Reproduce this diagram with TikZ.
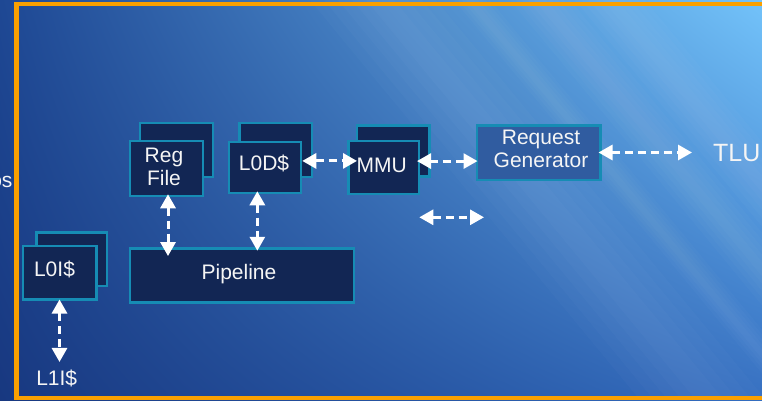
\documentclass[tikz,border=0pt]{standalone}
\usepackage{fontspec}
\setmainfont{Liberation Sans}
\usetikzlibrary{arrows.meta,shadings}

\definecolor{bgul}{RGB}{30,72,148}
\definecolor{bgur}{RGB}{115,195,250}
\definecolor{bgll}{RGB}{24,56,128}
\definecolor{bglr}{RGB}{52,110,192}
\definecolor{boxedge}{RGB}{22,140,180}
\definecolor{boxfill}{RGB}{18,38,84}
\definecolor{reqfill}{RGB}{48,92,160}
\definecolor{frameorange}{RGB}{250,160,0}
\definecolor{labelwhite}{RGB}{245,245,245}

\begin{document}
\begin{tikzpicture}[x=1pt,y=-1pt,
  every node/.style={font=\fontsize{21}{23}\selectfont, text=labelwhite},
  box/.style={draw=boxedge, fill=boxfill, line width=2.5pt, inner sep=0pt},
  txt/.style={align=center, inner sep=0pt},
  biarrow/.style={draw=white, line width=3pt, dash pattern=on 8pt off 5pt,
    {Triangle[length=14pt,width=15pt]}-{Triangle[length=14pt,width=15pt]}}]

  % Background
  \useasboundingbox (0,0) rectangle (762,400);
  \shade[upper left=bgul, upper right=bgur, lower left=bgll, lower right=bglr]
    (0,0) rectangle (762,400);

  % Soft light streaks
  \begin{scope}
    \clip (0,0) rectangle (762,400);
    \foreach \sx/\sw in {380/70, 540/30, 610/35, 470/20} {
      \foreach \k in {0,...,4} {
        \fill[white, opacity=0.018]
          (\sx-\sw+\k*\sw/5,0) -- (\sx+\sw-\k*\sw/5,0)
          -- (\sx+\sw-\k*\sw/5+330,400) -- (\sx-\sw+\k*\sw/5+330,400) -- cycle;
      }
    }
  \end{scope}

  % Orange frame
  \draw[frameorange, line width=4.5pt] (16.3,4.2) rectangle (800,397.8);

  % Reg File
  \node[box, minimum width=73pt, minimum height=54pt] (regback) at (176.5,150) {};
  \node[box, minimum width=73pt, minimum height=55pt] (regf) at (166.5,168.5) {};

  % L0D$
  \node[box, minimum width=72.5pt, minimum height=54pt] (l0dback) at (275.5,150) {};
  \node[box, minimum width=72pt, minimum height=51pt] (l0df) at (265,167.5) {};

  % MMU
  \node[box, minimum width=72.5pt, minimum height=51pt] (mmuback) at (393,151) {};
  \node[box, minimum width=70.5pt, minimum height=53pt] (mmuf) at (383.5,167.5) {};

  % Request Generator
  \node[box, fill=reqfill, minimum width=123.5pt, minimum height=54.5pt] (req) at (538.5,152.5) {};

  % Pipeline
  \node[box, minimum width=224pt, minimum height=54pt] (pipe) at (242,275.3) {};

  % L0I$
  \node[box, minimum width=70.5pt, minimum height=53.5pt] (l0iback) at (71.5,259) {};
  \node[box, minimum width=73.5pt, minimum height=53.5pt] (l0if) at (59.5,272.5) {};

  % Labels
  \node[txt] (regtxt) at (164,166.4) {Reg\\File};
  \node[txt, anchor=base] (l0dtxt) at (264,170) {L0D\$};
  \node[txt, anchor=base] (mmutxt) at (381.7,172.7) {MMU};
  \node[txt] (reqtxt) at (541,149.2) {Request\\Generator};
  \node[txt, anchor=base] (pipetxt) at (239,279.3) {Pipeline};
  \node[txt, anchor=base] (l0itxt) at (54.5,276.7) {L0I\$};
  \node[txt, anchor=base] (l1i) at (56.7,385) {L1I\$};
  \node[txt, anchor=base west, font=\fontsize{25}{27}\selectfont] (tlu) at (713,161.7) {TLU};
  \node[txt, anchor=base east] (os) at (12.7,187) {os};

  % Free arrow below MMU
  \coordinate (fa) at (419.3,217.3);
  \coordinate (fb) at (484,217.3);

  % Arrows
  \draw[biarrow, shorten <=-3pt, shorten >=-9pt] (regf.273) -- (regf.273 |- pipe.north);
  \draw[biarrow, shorten <=-3pt, shorten >=-3.7pt] (l0df.254.6) -- (l0df.254.6 |- pipe.north);
  \draw[biarrow, shorten >=-10pt] (l0df.10.2) -- (l0df.10.2 -| mmuf.west);
  \draw[biarrow, shorten <=-3pt, shorten >=-2pt] (mmuf.10.4) -- (mmuf.10.4 -| req.west);
  \draw[biarrow, shorten <=-3pt, shorten >=21pt] (req.east) -- (req.east -| tlu.west);
  \draw[biarrow] (fa) -- (fb);
  \draw[biarrow, shorten <=-1pt, shorten >=7.3pt] (l0if.south) -- (l0if.south |- l1i.north);

\end{tikzpicture}
\end{document}
